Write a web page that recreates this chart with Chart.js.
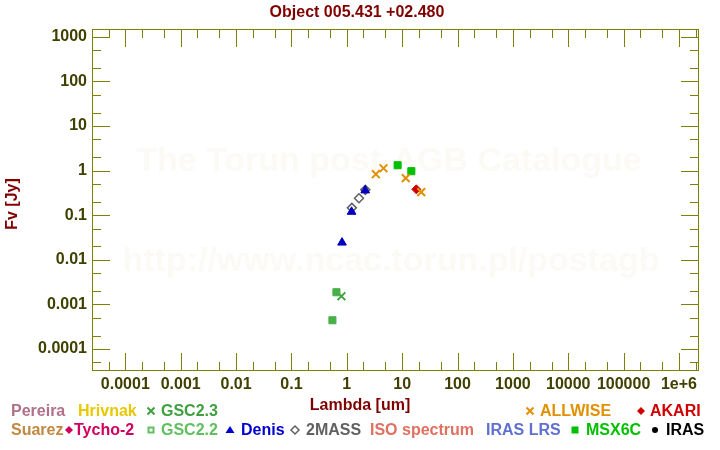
<!DOCTYPE html>
<html>
<head>
<meta charset="utf-8">
<script src="https://cdn.jsdelivr.net/npm/chart.js@4/dist/chart.umd.min.js"></script>
<style>
  body { margin: 0; background: #fff; }
  canvas { display: block; }
</style>
</head>
<body>
<canvas id="myChart" width="720" height="450"></canvas>
<script>
// photometry: wavelength [um] / flux [Jy]
var allwiseLambda = [3.35, 4.6, 11.6, 22.1];
var allwiseFlux = [0.83, 1.13, 0.68, 0.33];
var msxLambda = [8.28, 14.65];
var msxFlux = [1.32, 0.97];
var akariLambda = [18.0];
var akariFlux = [0.38];
var denisLambda = [0.82, 1.22, 2.15];
var denisFlux = [0.0243, 0.119, 0.36];
var twomassLambda = [1.235, 1.66, 2.16];
var twomassFlux = [0.146, 0.24, 0.37];
var gsc22Lambda = [0.55, 0.65];
var gsc22Flux = [0.00044, 0.00187];
var gsc23Lambda = [0.80];
var gsc23Flux = [0.00152];

var xTickExp = [-4, -3, -2, -1, 0, 1, 2, 3, 4, 5, 6];
var yTickExp = [-4, -3, -2, -1, 0, 1, 2, 3];

var FONT = '"Liberation Sans", Arial, sans-serif';
var AXIS = '#808000';
var TICKTXT = '#404000';
var DARKRED = '#800000';

function pts(xs, ys) {
    return xs.map(function (x, i) { return { x: x, y: ys[i] }; });
}

function fmt(v) {
    var e = Math.round(Math.log10(v));
    if (e >= 6) return '1e+' + e;
    return String(parseFloat('1e' + e));
}

function decadeTicks(exps) {
    return function (scale) {
        scale.ticks = exps.map(function (e) { return { value: parseFloat('1e' + e), major: true }; });
    };
}

// frame, inward ticks (major 1, minor 2 and 5) on all four sides
var framePlugin = {
    id: 'frame',
    beforeDatasetsDraw: function (chart) {
        var ctx = chart.ctx;
        ctx.save();
        ctx.textAlign = 'center';
        ctx.textBaseline = 'middle';
        ctx.fillStyle = '#fcfaf5';
        ctx.font = 'bold 34px ' + FONT;
        ctx.fillText('The Torun post-AGB Catalogue', 389, 162);
        ctx.fillText('http://www.ncac.torun.pl/postagb', 391, 262);
        ctx.restore();
    },
    afterDraw: function (chart) {
        var ctx = chart.ctx, a = chart.chartArea;
        var xs = chart.scales.x, ys = chart.scales.y;
        ctx.save();
        ctx.strokeStyle = AXIS;
        ctx.lineWidth = 1;
        ctx.strokeRect(a.left + 0.5, a.top + 0.5, a.right - a.left - 1, a.bottom - a.top - 1);
        ctx.beginPath();
        for (var e = -6; e <= 7; e++) {
            [1, 2, 5].forEach(function (m) {
                var v = m * Math.pow(10, e);
                var len = m === 1 ? 18 : 9;
                if (v > xs.min && v < xs.max) {
                    var px = Math.round(xs.getPixelForValue(v)) + 0.5;
                    ctx.moveTo(px, a.bottom); ctx.lineTo(px, a.bottom - len);
                    ctx.moveTo(px, a.top); ctx.lineTo(px, a.top + len);
                }
                if (v > ys.min && v < ys.max) {
                    var py = Math.round(ys.getPixelForValue(v)) + 0.5;
                    ctx.moveTo(a.left, py); ctx.lineTo(a.left + len, py);
                    ctx.moveTo(a.right, py); ctx.lineTo(a.right - len, py);
                }
            });
        }
        ctx.stroke();

        // titles
        ctx.fillStyle = DARKRED;
        ctx.font = 'bold 16px ' + FONT;
        ctx.textAlign = 'center';
        ctx.textBaseline = 'alphabetic';
        ctx.fillText('Object 005.431 +02.480', 357, 17);
        ctx.fillText('Lambda [um]', 360, 410);
        ctx.save();
        ctx.translate(17, 204);
        ctx.rotate(-Math.PI / 2);
        ctx.fillText('Fv [Jy]', 0, 0);
        ctx.restore();

        drawLegend(ctx);
        ctx.restore();
    }
};

function marker(ctx, type, x, y, color) {
    ctx.save();
    ctx.fillStyle = color;
    ctx.strokeStyle = color;
    ctx.lineWidth = 2;
    ctx.beginPath();
    if (type === 'x') {
        ctx.moveTo(x - 3.5, y - 3.5); ctx.lineTo(x + 3.5, y + 3.5);
        ctx.moveTo(x + 3.5, y - 3.5); ctx.lineTo(x - 3.5, y + 3.5);
        ctx.stroke();
    } else if (type === 'diamond') {
        ctx.moveTo(x, y - 4); ctx.lineTo(x + 4, y); ctx.lineTo(x, y + 4); ctx.lineTo(x - 4, y);
        ctx.closePath(); ctx.fill();
    } else if (type === 'odiamond') {
        ctx.lineWidth = 1.5;
        ctx.moveTo(x, y - 4); ctx.lineTo(x + 4, y); ctx.lineTo(x, y + 4); ctx.lineTo(x - 4, y);
        ctx.closePath(); ctx.stroke();
    } else if (type === 'osquare') {
        ctx.strokeRect(x - 2.5, y - 2.5, 5, 5);
    } else if (type === 'square') {
        ctx.fillRect(x - 3.5, y - 3.5, 7, 7);
    } else if (type === 'tri') {
        ctx.moveTo(x, y - 4); ctx.lineTo(x + 4.5, y + 3); ctx.lineTo(x - 4.5, y + 3);
        ctx.closePath(); ctx.fill();
    } else if (type === 'dot') {
        ctx.arc(x, y, 3, 0, Math.PI * 2); ctx.fill();
    }
    ctx.restore();
}

// legend: [label, text x, baseline, colour, marker, marker x]
var legendItems = [
    ['Pereira', 11, 416, '#b07088', null, 0],
    ['Hrivnak', 78, 416, '#e8c800', null, 0],
    ['GSC2.3', 161, 416, '#40a040', 'x', 151],
    ['ALLWISE', 540, 416, '#e09000', 'x', 530],
    ['AKARI', 650, 416, '#d00000', 'diamond', 641],
    ['Suarez', 11, 435, '#c08840', null, 0],
    ['Tycho-2', 74, 435, '#d00060', 'diamond', 69],
    ['GSC2.2', 161, 435, '#60c060', 'osquare', 151],
    ['Denis', 241, 435, '#0000d0', 'tri', 230],
    ['2MASS', 306, 435, '#606060', 'odiamond', 295],
    ['ISO spectrum', 370, 435, '#e07060', null, 0],
    ['IRAS LRS', 486, 435, '#6070d0', null, 0],
    ['MSX6C', 586, 435, '#00c000', 'square', 575],
    ['IRAS', 666, 435, '#000000', 'dot', 655]
];

function drawLegend(ctx) {
    ctx.font = 'bold 16px ' + FONT;
    ctx.textAlign = 'left';
    ctx.textBaseline = 'alphabetic';
    legendItems.forEach(function (it) {
        ctx.fillStyle = it[3];
        ctx.fillText(it[0], it[1], it[2]);
        if (it[4]) marker(ctx, it[4], it[5], it[2] - 5, it[3]);
    });
}

var ctx = document.getElementById('myChart').getContext('2d');
var myChart = new Chart(ctx, {
    type: 'scatter',
    data: {
        datasets: [
            { label: 'GSC2.2', data: pts(gsc22Lambda, gsc22Flux), pointStyle: 'rect', pointRadius: 5,
              backgroundColor: '#48b048', borderColor: '#48b048', borderWidth: 1 },
            { label: 'GSC2.3', data: pts(gsc23Lambda, gsc23Flux), pointStyle: 'crossRot', pointRadius: 5.5,
              borderColor: '#40a040', borderWidth: 2 },
            { label: 'Denis', data: pts(denisLambda, denisFlux), pointStyle: 'triangle', pointRadius: 5,
              backgroundColor: '#0000c0', borderColor: '#0000c0', borderWidth: 1 },
            { label: '2MASS', data: pts(twomassLambda, twomassFlux), pointStyle: 'rectRot', pointRadius: 4.5,
              backgroundColor: 'rgba(0,0,0,0)', borderColor: '#606060', borderWidth: 1.5 },
            { label: 'ALLWISE', data: pts(allwiseLambda, allwiseFlux), pointStyle: 'crossRot', pointRadius: 5.5,
              borderColor: '#e09000', borderWidth: 2 },
            { label: 'MSX6C', data: pts(msxLambda, msxFlux), pointStyle: 'rect', pointRadius: 5,
              backgroundColor: '#00c000', borderColor: '#00c000', borderWidth: 1 },
            { label: 'AKARI', data: pts(akariLambda, akariFlux), pointStyle: 'rectRot', pointRadius: 4.5,
              backgroundColor: '#d00000', borderColor: '#d00000', borderWidth: 1 }
        ]
    },
    options: {
        responsive: false,
        animation: false,
        layout: { padding: { left: 0, top: 29, right: 21, bottom: 0 } },
        plugins: { legend: { display: false }, tooltip: { enabled: false } },
        scales: {
            x: {
                type: 'logarithmic',
                min: 2.5e-5,
                max: 2.3e6,
                afterBuildTicks: decadeTicks(xTickExp),
                afterFit: function (s) { s.height = 79; },
                grid: { display: false, drawTicks: false },
                border: { display: false },
                ticks: {
                    padding: 4, color: TICKTXT, maxRotation: 0, autoSkip: false,
                    font: { family: FONT, size: 16, weight: 'bold' },
                    callback: function (v) { return fmt(v); }
                }
            },
            y: {
                type: 'logarithmic',
                min: 3.2e-5,
                max: 1500,
                afterBuildTicks: decadeTicks(yTickExp),
                afterFit: function (s) { s.width = 92; },
                grid: { display: false, drawTicks: false },
                border: { display: false },
                ticks: {
                    padding: 5, color: TICKTXT, autoSkip: false,
                    font: { family: FONT, size: 16, weight: 'bold' },
                    callback: function (v) { return fmt(v); }
                }
            }
        }
    },
    plugins: [framePlugin]
});
</script>
</body>
</html>
